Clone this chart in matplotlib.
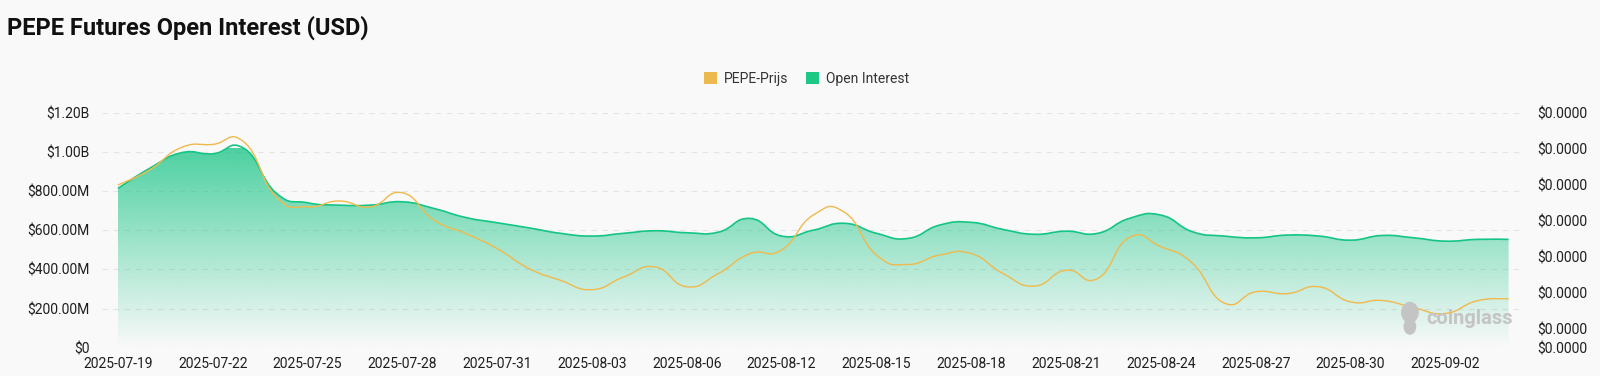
import matplotlib
matplotlib.use("Agg")
import matplotlib.pyplot as plt
from matplotlib.path import Path
from matplotlib.patches import PathPatch, Patch, Ellipse
from matplotlib.ticker import FuncFormatter
import numpy as np

dates = ["2025-07-19", "2025-07-20", "2025-07-21", "2025-07-22", "2025-07-23", "2025-07-24",
         "2025-07-25", "2025-07-26", "2025-07-27", "2025-07-28", "2025-07-29", "2025-07-30",
         "2025-07-31", "2025-08-01", "2025-08-02", "2025-08-03", "2025-08-04", "2025-08-05",
         "2025-08-06", "2025-08-07", "2025-08-08", "2025-08-12", "2025-08-13", "2025-08-14",
         "2025-08-15", "2025-08-16", "2025-08-17", "2025-08-18", "2025-08-19", "2025-08-20",
         "2025-08-21", "2025-08-22", "2025-08-23", "2025-08-24", "2025-08-25", "2025-08-26",
         "2025-08-27", "2025-08-28", "2025-08-29", "2025-08-30", "2025-08-31", "2025-09-01",
         "2025-09-02", "2025-09-03", "2025-09-04"]

# open interest, billions of USD
open_interest_bn = [0.813, 0.915, 0.995, 0.990, 1.017, 0.791, 0.740, 0.728, 0.728, 0.745,
                    0.711, 0.665, 0.638, 0.612, 0.584, 0.570, 0.584, 0.597, 0.587, 0.590,
                    0.660, 0.570, 0.600, 0.635, 0.584, 0.558, 0.626, 0.640, 0.604, 0.579,
                    0.595, 0.584, 0.660, 0.677, 0.592, 0.570, 0.561, 0.575, 0.570, 0.549,
                    0.573, 0.561, 0.544, 0.553, 0.553]

# PEPE price, micro-dollars (1e-6 USD)
price_micro = [11.99, 12.41, 13.03, 13.12, 13.18, 11.67, 11.39, 11.55, 11.39, 11.78,
               11.02, 10.65, 10.23, 9.68, 9.35, 9.09, 9.44, 9.72, 9.17, 9.54,
               10.09, 10.19, 11.16, 11.23, 10.05, 9.79, 10.05, 10.09, 9.54, 9.19,
               9.63, 9.40, 10.54, 10.28, 9.82, 8.72, 9.03, 8.98, 9.17, 8.75,
               8.79, 8.59, 8.43, 8.78, 8.84]

left_ticks = [0, 0.2, 0.4, 0.6, 0.8, 1.0, 1.2]
right_ticks = [7.48, 8, 9, 10, 11, 12, 13, 14]

BG = "#f9f9f9"
GREEN = "#10c382"
LINE_GREEN = "#14c585"
YELLOW = "#f0b94c"
WM = "#c4c4c4"


def smooth_path(x, y, s=0.25):
    # bezier curve through every point (echarts style smoothing)
    n = len(x)
    verts = [(x[0], y[0])]
    codes = [Path.MOVETO]
    for i in range(n - 1):
        a = max(i - 1, 0)
        b = min(i + 2, n - 1)
        c1 = (x[i] + (x[i + 1] - x[a]) * s, y[i] + (y[i + 1] - y[a]) * s)
        c2 = (x[i + 1] - (x[b] - x[i]) * s, y[i + 1] - (y[b] - y[i]) * s)
        verts += [c1, c2, (x[i + 1], y[i + 1])]
        codes += [Path.CURVE4] * 3
    return verts, codes


plt.rcParams['font.family'] = ['Roboto', 'DejaVu Sans']

fig = plt.figure(figsize=(16, 3.76), dpi=100, facecolor=BG)
ax = fig.add_axes([0.06375, 0.0753, 0.889, 0.625])
ax.set_facecolor(BG)

x = np.arange(len(dates))
oi = np.array(open_interest_bn)
pr = np.array(price_micro)

# open interest area with vertical gradient
verts, codes = smooth_path(x, oi)
line_path = Path(verts, codes)
area_verts = verts + [(x[-1], 0), (x[0], 0), (x[0], oi[0])]
area_codes = codes + [Path.LINETO, Path.LINETO, Path.CLOSEPOLY]
area = PathPatch(Path(area_verts, area_codes), facecolor="none", edgecolor="none")
ax.add_patch(area)

rgb = matplotlib.colors.to_rgb(GREEN)
grad = np.zeros((256, 1, 4))
grad[..., 0], grad[..., 1], grad[..., 2] = rgb
grad[:, 0, 3] = np.linspace(0.74, 0.0, 256)
img = ax.imshow(grad, extent=(x[0], x[-1], 0, oi.max()), aspect="auto",
                origin="upper", zorder=1, interpolation="bilinear")
img.set_clip_path(area)
ax.add_patch(PathPatch(line_path, facecolor="none", edgecolor=LINE_GREEN, lw=1.2, zorder=3))

ax.set_xlim(-0.5, len(dates) - 0.5)
ax.set_ylim(0, 1.2)
ax.set_yticks(left_ticks)


def fmt_usd(v, pos):
    if v == 0:
        return "$0"
    if v >= 1:
        return "${:.2f}B".format(v)
    return "${:.2f}M".format(v * 1000)


ax.yaxis.set_major_formatter(FuncFormatter(fmt_usd))
ax.set_xticks(x[::3])
ax.set_xticklabels(dates[::3])
ax.tick_params(axis="both", length=0, labelsize=10, colors="#1e1e1e")
ax.tick_params(axis="y", pad=9)
ax.tick_params(axis="x", pad=7)
ax.yaxis.grid(True, color="#e4e4e4", lw=0.8, linestyle=(0, (5, 5)))
ax.set_axisbelow(True)
for sp in ax.spines.values():
    sp.set_visible(False)

# price on the right axis
ax2 = ax.twinx()
pverts, pcodes = smooth_path(x, pr)
ax2.add_patch(PathPatch(Path(pverts, pcodes), facecolor="none", edgecolor=YELLOW, lw=1.0, zorder=4))
ax2.set_ylim(right_ticks[0], right_ticks[-1])
ax2.set_yticks(right_ticks)
ax2.yaxis.set_major_formatter(FuncFormatter(lambda v, p: "$0.0000"))
ax2.tick_params(axis="y", length=0, labelsize=10, colors="#1e1e1e", pad=9)
for sp in ax2.spines.values():
    sp.set_visible(False)

# watermark
ax2.text(0.992, 0.125, "coinglass", transform=ax.transAxes, ha="right", va="center",
         fontsize=14.5, fontweight="bold", color=WM, zorder=5)
ax2.add_patch(Ellipse((0.9195, 0.15), 0.0125, 0.09, transform=ax.transAxes,
                      color=WM, zorder=5, lw=0))
ax2.add_patch(Ellipse((0.9195, 0.09), 0.009, 0.07, transform=ax.transAxes,
                      color=WM, zorder=5, lw=0))

fig.text(7 / 1600, 1 - 35 / 376, "PEPE Futures Open Interest (USD)", fontsize=17,
         fontweight="bold", color="#111111", va="baseline", ha="left")

handles = [Patch(facecolor="#ecb94f", edgecolor="none", label="PEPE-Prijs"),
           Patch(facecolor="#1dc786", edgecolor="none", label="Open Interest")]
fig.legend(handles=handles, loc="center", bbox_to_anchor=(0.504, 1 - 79 / 376), ncol=2,
           frameon=False, fontsize=10, handlelength=0.9, handleheight=0.9,
           handletextpad=0.5, columnspacing=1.3, labelcolor="#333333")

fig.savefig("out.png", dpi=100, facecolor=BG)
